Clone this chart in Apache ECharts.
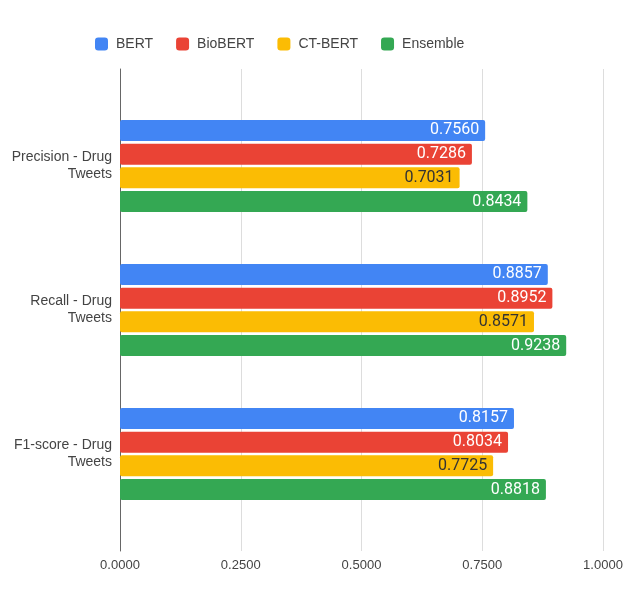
<!DOCTYPE html>
<html>
<head>
<meta charset="utf-8">
<script src="https://cdn.jsdelivr.net/npm/echarts@6/dist/echarts.min.js"></script>
<style>html,body{margin:0;padding:0;background:#fff}#c{width:628px;height:599px}</style>
</head>
<body>
<div id="c"></div>
<script>
const categories = ['Precision - Drug\nTweets', 'Recall - Drug\nTweets', 'F1-score - Drug\nTweets'];
const seriesNames = ['BERT', 'BioBERT', 'CT-BERT', 'Ensemble'];
const bert = [0.7560, 0.8857, 0.8157];
const biobert = [0.7286, 0.8952, 0.8034];
const ctbert = [0.7031, 0.8571, 0.7725];
const ensemble = [0.8434, 0.9238, 0.8818];
const xTicks = [0, 0.25, 0.5, 0.75, 1.0];

const colors = ['#4285F4', '#EA4335', '#FBBC04', '#34A853'];
const labelColors = ['#ffffff', '#ffffff', '#333333', '#ffffff'];
const values = [bert, biobert, ctbert, ensemble];
const arial = 'Arial, "Liberation Sans", sans-serif';
const roboto = 'Roboto, Arial, sans-serif';

const chart = echarts.init(document.getElementById('c'));
chart.setOption({
  animation: false,
  color: colors,
  textStyle: { fontFamily: arial },
  legend: {
    top: 32, left: 90,
    itemWidth: 13, itemHeight: 13, itemGap: 23,
    icon: 'roundRect',
    textStyle: { color: '#444', fontSize: 14, fontFamily: arial, padding: [0, 0, 0, 3] },
    data: seriesNames
  },
  grid: [
    { left: 120, width: 483, top: 94, height: 432 },
    { left: 120, width: 483, top: 69, height: 482 }
  ],
  xAxis: [
    { gridIndex: 0, type: 'value', min: 0, max: 1, show: false },
    { gridIndex: 1, type: 'value', min: xTicks[0], max: xTicks[xTicks.length - 1], interval: 0.25,
      axisLine: { show: false }, axisTick: { show: false },
      splitLine: { show: true, lineStyle: { color: '#dddddd', width: 1 } },
      axisLabel: { color: '#444', fontSize: 13, margin: 8, fontFamily: arial,
        formatter: v => v.toFixed(4) } }
  ],
  yAxis: [
    { gridIndex: 0, type: 'category', data: categories, inverse: true,
      axisLine: { show: false }, axisTick: { show: false },
      axisLabel: { color: '#444', fontSize: 14, lineHeight: 17, margin: 8, align: 'right', fontFamily: arial } },
    { gridIndex: 1, type: 'value', min: 0, max: 1,
      axisLine: { show: true, lineStyle: { color: '#666', width: 1 } },
      axisTick: { show: false }, axisLabel: { show: false }, splitLine: { show: false } }
  ],
  series: seriesNames.map((name, i) => ({
    name, type: 'bar', xAxisIndex: 0, yAxisIndex: 0,
    data: values[i],
    barWidth: 21, barGap: '13%',
    itemStyle: { color: colors[i], borderRadius: 2 },
    label: {
      show: true, position: 'insideRight', distance: 6,
      color: labelColors[i], fontSize: 16, fontFamily: roboto,
      formatter: p => p.value.toFixed(4)
    }
  }))
});
</script>
</body>
</html>
